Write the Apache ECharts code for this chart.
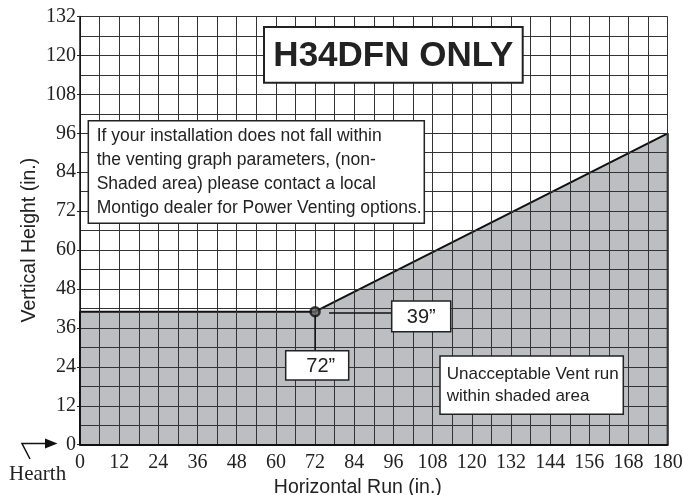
<!DOCTYPE html>
<html>
<head>
<meta charset="utf-8">
<script src="https://cdn.jsdelivr.net/npm/echarts@6/dist/echarts.min.js"></script>
<style>
html,body{margin:0;padding:0;background:#fff;}
#chart{width:683px;height:495px;}
</style>
</head>
<body>
<div id="chart"></div>
<script>
// Axis ranges and tick steps
const xRange = [0, 180];
const yRange = [0, 132];
const tickStep = 12;
const gridStep = 6;

// Shaded (unacceptable) region boundary
const boundaryX = [0, 0, 72, 180, 180];
const boundaryY = [0, 41, 41, 96, 0];

// Highlighted corner point
const cornerPoint = [72, 41];
const cornerLabels = ['72\u201D', '39\u201D'];

// Texts
const titleText = 'H34DFN ONLY';
const infoLines = [
  'If your installation does not fall within',
  'the venting graph parameters, (non-',
  'Shaded area) please contact a local',
  'Montigo dealer for Power Venting options.'
];
const shadedLines = ['Unacceptable Vent run', 'within shaded area'];
const xName = 'Horizontal Run (in.)';
const yName = 'Vertical Height (in.)';
const originNote = 'Hearth';

const chart = echarts.init(document.getElementById('chart'), null, {renderer: 'canvas'});
const ink = '#222';
const gridColor = '#333';
const sans = 'Liberation Sans, Arial, sans-serif';
const serif = 'Liberation Serif, Times New Roman, serif';

const boundary = boundaryX.map((x, i) => [x, boundaryY[i]]);

const axisCommon = {
  type: 'value',
  z: 5,
  interval: tickStep,
  splitLine: {show: true, lineStyle: {color: gridColor, width: 1}},
  minorTick: {show: false, splitNumber: tickStep / gridStep},
  minorSplitLine: {show: true, lineStyle: {color: gridColor, width: 1}},
  nameLocation: 'middle'
};

chart.setOption({
  animation: false,
  backgroundColor: '#fff',
  grid: {left: 80, right: 15.3, top: 16.5, bottom: 50.3, show: false,
         containLabel: false, outerBoundsMode: 'none'},
  xAxis: Object.assign({}, axisCommon, {
    min: xRange[0], max: xRange[1],
    axisLine: {show: true, onZero: false, lineStyle: {color: '#111', width: 2}},
    axisTick: {show: false},
    axisLabel: {fontFamily: serif, fontSize: 20, color: ink, margin: 8, interval: 0,
                showMinLabel: true, showMaxLabel: true},
    name: xName, nameGap: 32,
    nameTextStyle: {fontFamily: sans, fontSize: 19.5, color: ink, padding: [0, 32, 0, 0]}
  }),
  yAxis: Object.assign({}, axisCommon, {
    min: yRange[0], max: yRange[1],
    axisLine: {show: true, onZero: false, lineStyle: {color: '#111', width: 1.5}},
    axisTick: {show: true, length: 3, lineStyle: {color: ink, width: 1}},
    axisLabel: {fontFamily: serif, fontSize: 20, color: ink, margin: 4,
                showMinLabel: true, showMaxLabel: true},
    name: yName, nameGap: 40, nameRotate: 90, nameMoveOverlap: false,
    nameTextStyle: {fontFamily: sans, fontSize: 19.5, color: ink, padding: [0, 19, 0, 0]}
  }),
  series: [
    {
      type: 'line',
      z: 2,
      data: boundary,
      symbol: 'none',
      lineStyle: {color: '#111', width: 2},
      areaStyle: {color: '#bdbec2', opacity: 1}
    },
    {
      type: 'scatter',
      z: 10,
      data: [cornerPoint],
      symbol: 'circle',
      symbolSize: 9,
      itemStyle: {color: '#666', borderColor: '#111', borderWidth: 2.5}
    }
  ]
});

const p = chart.convertToPixel({gridIndex: 0}, cornerPoint);

chart.setOption({
  graphic: [
    // Title box
    {type: 'rect', z: 100, shape: {x: 264, y: 27, width: 258.7, height: 55.7},
     style: {fill: '#fff', stroke: ink, lineWidth: 2}},
    {type: 'text', z: 101, x: 393.3, y: 56.5,
     style: {text: titleText, fontFamily: sans, fontWeight: 'bold', fontSize: 35,
             fill: ink, align: 'center', verticalAlign: 'middle'}},
    // Info box
    {type: 'rect', z: 100, shape: {x: 88.3, y: 120.7, width: 336, height: 102.6},
     style: {fill: '#fff', stroke: ink, lineWidth: 1.5}},
    {type: 'text', z: 101, x: 96.7, y: 123.7,
     style: {text: infoLines.join('\n'), fontFamily: sans, fontSize: 17.5, lineHeight: 24,
             fill: ink, align: 'left', verticalAlign: 'top'}},
    // Shaded area note
    {type: 'rect', z: 100, shape: {x: 440, y: 356, width: 183.3, height: 58.3},
     style: {fill: '#fff', stroke: ink, lineWidth: 1.5}},
    {type: 'text', z: 101, x: 446.7, y: 363,
     style: {text: shadedLines.join('\n'), fontFamily: sans, fontSize: 17, lineHeight: 22,
             fill: ink, align: 'left', verticalAlign: 'top'}},
    // Connectors from corner point
    {type: 'line', z: 99, shape: {x1: p[0], y1: p[1] + 4, x2: p[0], y2: 351},
     style: {stroke: '#111', lineWidth: 1.5}},
    {type: 'line', z: 99, shape: {x1: p[0] + 14, y1: p[1] + 1.3, x2: 392, y2: p[1] + 1.3},
     style: {stroke: '#111', lineWidth: 1.5}},
    // 72" box
    {type: 'rect', z: 100, shape: {x: 285.7, y: 350.7, width: 63, height: 29.3},
     style: {fill: '#fff', stroke: ink, lineWidth: 1.5}},
    {type: 'text', z: 101, x: 320.8, y: 366,
     style: {text: cornerLabels[0], fontFamily: sans, fontSize: 20, fill: ink,
             align: 'center', verticalAlign: 'middle'}},
    // 39" box
    {type: 'rect', z: 100, shape: {x: 391.7, y: 301, width: 59, height: 30.7},
     style: {fill: '#fff', stroke: ink, lineWidth: 1.5}},
    {type: 'text', z: 101, x: 421.3, y: 317,
     style: {text: cornerLabels[1], fontFamily: sans, fontSize: 20, fill: ink,
             align: 'center', verticalAlign: 'middle'}},
    // Hearth arrow
    {type: 'polyline', z: 100, shape: {points: [[30, 459], [22, 443.5], [47, 443.5]]},
     style: {stroke: '#111', lineWidth: 1.5, fill: null}},
    {type: 'polygon', z: 100, shape: {points: [[45, 438.5], [57.5, 443.5], [45, 448.5]]},
     style: {fill: '#111'}},
    {type: 'text', z: 101, x: 9, y: 474,
     style: {text: originNote, fontFamily: serif, fontSize: 21, fill: ink,
             align: 'left', verticalAlign: 'middle'}}
  ]
});
</script>
</body>
</html>
